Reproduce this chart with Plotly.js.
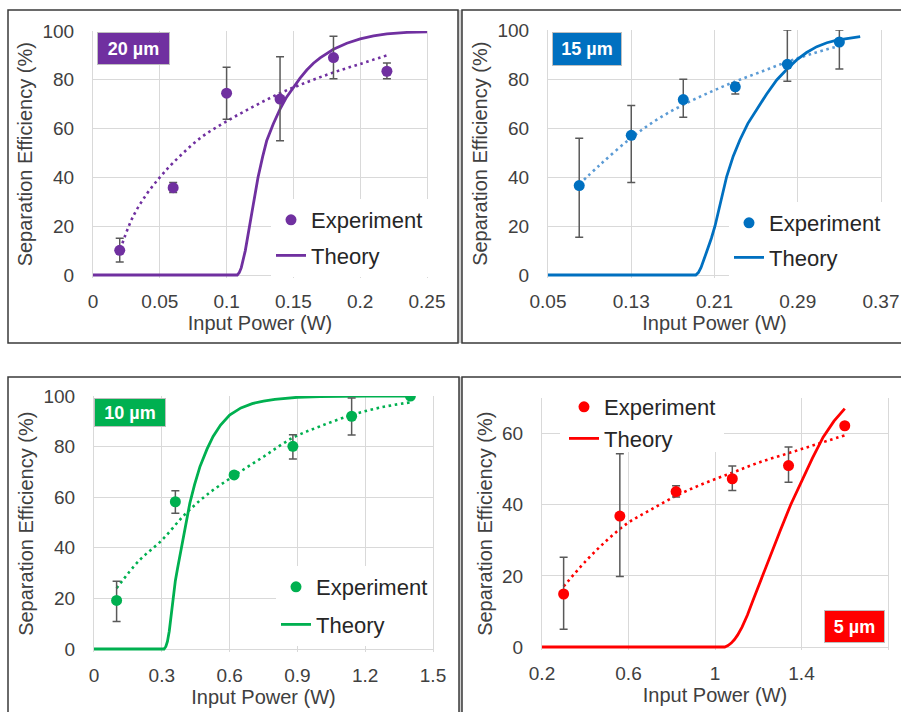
<!DOCTYPE html>
<html>
<head>
<meta charset="utf-8">
<script src="https://cdn.plot.ly/plotly-3.0.1.min.js"></script>
<style>
html,body{margin:0;padding:0;background:#fff;}
#chart{width:901px;height:712px;}
</style>
</head>
<body>
<div id="chart"></div>
<script>
// ---------- DATA ----------
// 20 µm
const p20_x = [0.02, 0.06, 0.10, 0.14, 0.18, 0.22];
const p20_y = [10.1, 35.8, 74.5, 72.1, 89.1, 83.5];
const p20_errPlus = [5.0, 2.1, 10.6, 17.3, 8.7, 3.4];
const p20_errMinus = [4.8, 2.0, 10.7, 17.1, 8.7, 3.1];
const p20_trendX = [0.022, 0.03, 0.04, 0.05, 0.06, 0.08, 0.10, 0.12, 0.14, 0.16, 0.18, 0.20, 0.22];
const p20_trendY = [13, 24, 33, 40, 46, 56, 63, 69, 74.5, 79, 83, 86.5, 90];
const p20_theoryX = [0, 0.108, 0.1095, 0.111, 0.114, 0.117, 0.12, 0.1235, 0.127, 0.13, 0.135, 0.14, 0.145, 0.15, 0.155, 0.16, 0.165, 0.17, 0.18, 0.19, 0.20, 0.21, 0.22, 0.235, 0.25];
const p20_theoryY = [0, 0, 1, 3, 10, 20, 30, 40, 48.5, 55, 62, 68, 73, 77, 80.7, 84, 86.8, 89, 92.5, 95, 96.8, 98, 98.8, 99.4, 99.7];

// 15 µm
const p15_x = [0.08, 0.13, 0.18, 0.23, 0.28, 0.33];
const p15_y = [36.5, 57, 71.6, 76.8, 86, 95.1];
const p15_errPlus = [19.3, 12.2, 8.3, 1.7, 14, 4.9];
const p15_errMinus = [21.1, 19.2, 7.2, 2.9, 6.9, 11];
const p15_trendX = [0.08, 0.10, 0.13, 0.155, 0.18, 0.205, 0.23, 0.255, 0.28, 0.305, 0.33];
const p15_trendY = [37, 45, 56, 63.5, 69.5, 74.5, 79, 83, 87, 90.5, 93.5];
const p15_theoryX = [0.05, 0.192, 0.1945, 0.197, 0.2, 0.2035, 0.207, 0.2105, 0.216, 0.2217, 0.228, 0.2345, 0.242, 0.2506, 0.26, 0.2698, 0.28, 0.289, 0.2985, 0.3083, 0.318, 0.3276, 0.339, 0.35];
const p15_theoryY = [0, 0, 1, 3, 6.5, 10.5, 15, 20, 30, 40.2, 48.5, 55.2, 61.8, 67.4, 73.8, 79.6, 84.2, 87.8, 90.8, 93.2, 94.8, 95.9, 96.7, 97.3];

// 10 µm
const p10_x = [0.10, 0.36, 0.62, 0.88, 1.14, 1.40];
const p10_y = [19.2, 58.2, 68.8, 80.1, 92, 100];
const p10_errPlus = [7.6, 4.3, 0, 4.6, 7.2, 0];
const p10_errMinus = [8.3, 4.5, 0, 5.0, 7.4, 0];
const p10_trendX = [0.10, 0.20, 0.30, 0.40, 0.50, 0.62, 0.75, 0.88, 1.00, 1.14, 1.27, 1.40];
const p10_trendY = [24, 35, 43, 53, 61, 68.5, 76, 83.5, 88, 92.5, 95.5, 97.5];
const p10_theoryX = [0, 0.31, 0.318, 0.325, 0.333, 0.341, 0.35, 0.36, 0.37, 0.3875, 0.405, 0.424, 0.445, 0.4685, 0.50, 0.527, 0.56, 0.60, 0.65, 0.70, 0.75, 0.80, 0.90, 1.00, 1.20, 1.40];
const p10_theoryY = [0, 0, 1, 3, 7, 13, 21, 27, 32, 40.5, 50, 57.6, 65, 72, 79, 84, 88.5, 92.5, 95.3, 97, 98, 98.7, 99.5, 99.8, 100, 100];

// 5 µm
const p5_x = [0.30, 0.56, 0.82, 1.08, 1.34, 1.60];
const p5_y = [14.9, 36.8, 43.7, 47.3, 51, 62.2];
const p5_errPlus = [10.3, 17.5, 1.6, 3.6, 5.2, 0];
const p5_errMinus = [9.9, 17, 1.5, 3.3, 4.7, 0];
const p5_trendX = [0.30, 0.40, 0.50, 0.60, 0.70, 0.82, 0.95, 1.08, 1.20, 1.34, 1.47, 1.60];
const p5_trendY = [17, 24, 30, 35, 38.5, 42.5, 46, 49, 51.8, 54.5, 57, 59.5];
const p5_theoryX = [0.2, 1.045, 1.06, 1.075, 1.09, 1.105, 1.125, 1.15, 1.175, 1.20, 1.25, 1.30, 1.35, 1.40, 1.45, 1.50, 1.55, 1.60];
const p5_theoryY = [0, 0, 0.4, 1.1, 2.1, 3.4, 5.6, 9, 13, 17, 24.8, 32.5, 40, 46.5, 53, 59, 63.5, 67];

const panelLabels = ['20 µm', '15 µm', '10 µm', '5 µm'];
const legendNames = ['Experiment', 'Theory'];
const xTitle = 'Input Power (W)';
const yTitle = 'Separation Efficiency (%)';

// ---------- LAYOUT HELPERS ----------
const W = 901, H = 712;
const fx = px => px / W;
const fy = py => 1 - py / H;
const FONT = 'Liberation Sans, Arial, sans-serif';
const TXT = '#404040';
const ERR = '#595959';
const GRID = '#D9D9D9';

const panels = [
  {xs: p20_x, ys: p20_y, ep: p20_errPlus, em: p20_errMinus, tx: p20_trendX, ty: p20_trendY, thx: p20_theoryX, thy: p20_theoryY,
   col: '#7030A0', trendCol: '#7030A0'},
  {xs: p15_x, ys: p15_y, ep: p15_errPlus, em: p15_errMinus, tx: p15_trendX, ty: p15_trendY, thx: p15_theoryX, thy: p15_theoryY,
   col: '#0070C0', trendCol: '#5B9BD5'},
  {xs: p10_x, ys: p10_y, ep: p10_errPlus, em: p10_errMinus, tx: p10_trendX, ty: p10_trendY, thx: p10_theoryX, thy: p10_theoryY,
   col: '#00B050', trendCol: '#00B050'},
  {xs: p5_x, ys: p5_y, ep: p5_errPlus, em: p5_errMinus, tx: p5_trendX, ty: p5_trendY, thx: p5_theoryX, thy: p5_theoryY,
   col: '#FF0000', trendCol: '#FF0000'}
];

// plot areas in pixels [left, right, top(ymax), bottom(y=0)]
const areas = [
  [93, 427, 31, 275],
  [548, 881, 30, 275],
  [94, 433, 396, 649],
  [542, 888, 398, 647]
];
const xRanges = [[0, 0.25], [0.05, 0.37], [0, 1.5], [0.2, 1.8]];
const xDticks = [0.05, 0.08, 0.3, 0.4];
const yMax = [100, 100, 100, 70];
const PADPX = 2.5; // extra room below y=0 so the flat theory line is not clipped

const traces = [];
const layout = {
  width: W, height: H,
  margin: {l: 0, r: 0, t: 0, b: 0},
  paper_bgcolor: '#fff', plot_bgcolor: '#fff',
  font: {family: FONT, color: TXT},
  showlegend: true,
  shapes: [], annotations: []
};

panels.forEach((p, i) => {
  const n = i === 0 ? '' : String(i + 1);
  const xa = 'x' + n, ya = 'y' + n;
  const leg = 'legend' + n;
  traces.push({x: p.tx, y: p.ty, xaxis: xa, yaxis: ya, mode: 'lines', type: 'scatter',
    line: {color: p.trendCol, width: 2.6, dash: '2.6px,3.6px', shape: 'spline'}, showlegend: false, hoverinfo: 'skip'});
  traces.push({x: p.thx, y: p.thy, xaxis: xa, yaxis: ya, mode: 'lines', type: 'scatter', name: legendNames[1],
    line: {color: p.col, width: 2.8}, legend: leg, legendrank: 2, legendgroup: 'th' + i});
  traces.push({x: p.xs, y: p.ys, xaxis: xa, yaxis: ya, mode: 'markers', type: 'scatter', name: legendNames[0],
    marker: {color: p.col, size: 11},
    error_y: {type: 'data', symmetric: false, array: p.ep, arrayminus: p.em, color: ERR, thickness: 1.5, width: 4},
    legend: leg, legendrank: 1, legendgroup: 'ex' + i});

  const a = areas[i];
  const pxPerUnit = (a[3] - a[2]) / yMax[i];
  const yMin = -PADPX / pxPerUnit;
  layout['xaxis' + n] = {
    domain: [fx(a[0]), fx(a[1])], anchor: ya, range: xRanges[i],
    tick0: xRanges[i][0], dtick: xDticks[i],
    showgrid: true, gridcolor: GRID, gridwidth: 1, zeroline: false,
    showline: false,
    ticks: '', ticklabelstandoff: 10,
    tickfont: {family: FONT, size: 19, color: TXT},
    title: {text: xTitle, font: {family: FONT, size: 20, color: TXT}, standoff: 2}
  };
  layout['yaxis' + n] = {
    domain: [fy(a[3] + PADPX), fy(a[2])], anchor: xa, range: [yMin, yMax[i]], tick0: 0, dtick: 20,
    showgrid: true, gridcolor: GRID, gridwidth: 1, zeroline: false,
    showline: true, linecolor: GRID, linewidth: 1, mirror: true,
    ticks: '', ticklabelstandoff: 14,
    tickfont: {family: FONT, size: 19, color: TXT},
    title: {text: yTitle, font: {family: FONT, size: 20, color: TXT}, standoff: 4}
  };
});

// legends: [text-start x px, top y px, gap between the two rows, background]
const legPos = [[313, 199, 4, '#ffffff'], [771, 202, 3, '#ffffff'], [318, 566, 6, '#ffffff'], [606, 386, 0, 'rgba(0,0,0,0)']];
legPos.forEach((lp, i) => {
  const n = i === 0 ? '' : String(i + 1);
  layout['legend' + n] = {
    x: fx(lp[0] - 42), y: fy(lp[1]), xanchor: 'left', yanchor: 'top',
    bgcolor: lp[3], borderwidth: 0,
    font: {family: FONT, size: 22, color: '#262626'},
    traceorder: 'grouped', tracegroupgap: lp[2], itemwidth: 30
  };
});

// white patch behind the 5 µm legend: hides gridlines but stays under the data (px box -> data coords)
(function () {
  const a = areas[3];
  const dx = px => xRanges[3][0] + (px - a[0]) / (a[1] - a[0]) * (xRanges[3][1] - xRanges[3][0]);
  const dy = py => (a[3] - py) / (a[3] - a[2]) * yMax[3];
  layout.shapes.push({type: 'rect', xref: 'x4', yref: 'y4', x0: dx(560), x1: dx(724), y0: dy(452), y1: dy(392),
    fillcolor: '#ffffff', line: {width: 0}, layer: 'between'});
})();

// panel labels [left, top, width, height] px
const labBoxes = [[97, 32, 73, 33], [552, 32, 70, 34], [94, 398, 72, 29], [824, 610, 61, 33]];
labBoxes.forEach((b, i) => {
  layout.annotations.push({
    xref: 'paper', yref: 'paper', x: fx(b[0]), y: fy(b[1]), xanchor: 'left', yanchor: 'top',
    text: '<b>' + panelLabels[i] + '</b>', showarrow: false,
    font: {family: FONT, size: 18, color: '#ffffff'},
    bgcolor: panels[i].col, bordercolor: '#BFBFBF', borderwidth: 1, borderpad: 0,
    width: b[2] - 2, height: b[3] - 2, align: 'center', valign: 'middle'
  });
});

// panel frames
const frames = [[8, 458, 10, 343], [462, 905, 10, 343], [8, 459, 377, 716], [462, 905, 377, 716]];
layout.shapes.push({type: 'rect', xref: 'paper', yref: 'paper', x0: fx(458), x1: fx(462), y0: fy(10), y1: fy(343), fillcolor: '#D0D0D0', line: {width: 0}, layer: 'below'});
layout.shapes.push({type: 'rect', xref: 'paper', yref: 'paper', x0: fx(459), x1: fx(462), y0: fy(377), y1: fy(716), fillcolor: '#D0D0D0', line: {width: 0}, layer: 'below'});
frames.forEach(f => {
  layout.shapes.push({type: 'rect', xref: 'paper', yref: 'paper', x0: fx(f[0]), x1: fx(f[1]), y0: fy(f[3]), y1: fy(f[2]),
    line: {color: '#3A3A3A', width: 1.5}, fillcolor: 'rgba(0,0,0,0)', layer: 'above'});
});

Plotly.newPlot('chart', traces, layout, {staticPlot: true, displayModeBar: false});
</script>
</body>
</html>
